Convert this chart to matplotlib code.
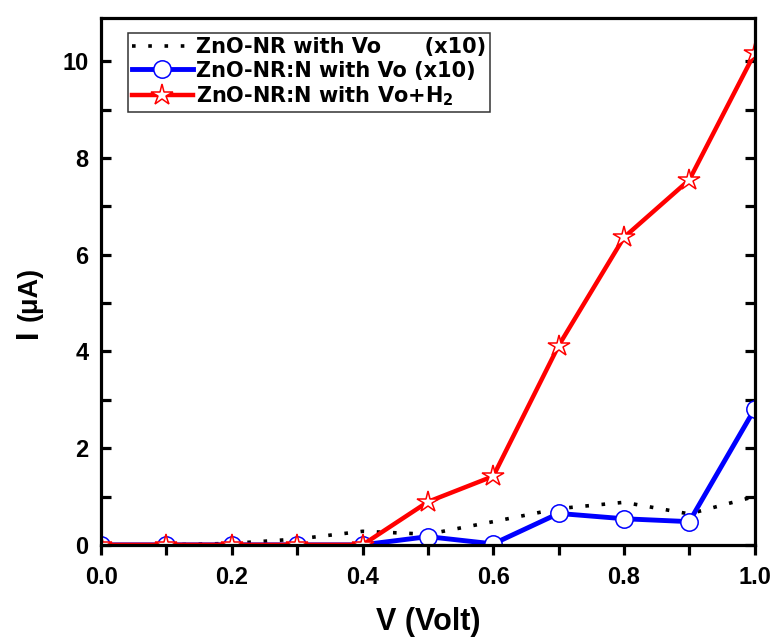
import numpy as np
import matplotlib.pyplot as plt

plt.rcParams['font.family'] = ['Liberation Sans', 'DejaVu Sans']
plt.rcParams['font.weight'] = 'bold'
plt.rcParams['mathtext.default'] = 'bf'

# voltage (V)
v = [0.0, 0.1, 0.2, 0.3, 0.4, 0.5, 0.6, 0.7, 0.8, 0.9, 1.0]
# currents (uA)
i_zno = [0.0, 0.0, 0.03, 0.12, 0.28, 0.22, 0.48, 0.75, 0.88, 0.64, 1.0]
i_znon = [0.0, 0.0, 0.0, 0.0, 0.0, 0.17, 0.02, 0.65, 0.54, 0.48, 2.81]
i_znon_h2 = [0.0, 0.0, 0.0, 0.0, 0.0, 0.89, 1.42, 4.12, 6.36, 7.55, 10.17]

W, H = 778, 641
fig = plt.figure(figsize=(W / 100, H / 100), dpi=100)
ax = fig.add_axes([0.13, 0.15, 0.84, 0.822])

ax.plot(v, i_zno, color='black', ls=(0, (1, 3.5)), lw=2.6,
        label='ZnO-NR with Vo      (x10)')
ax.plot(v, i_znon, color='blue', lw=3.5, marker='o', ms=12.5, mfc='white',
        mec='blue', mew=1.1, label='ZnO-NR:N with Vo (x10)')
ax.plot(v, i_znon_h2, color='red', lw=3.2, marker='*', ms=16, mfc='white',
        mec='red', mew=1.1, label='ZnO-NR:N with Vo+H$_2$')

ax.set_xlim(0.0, 1.0)
ax.set_ylim(0, 10.9)
ax.set_xticks(np.arange(0, 1.01, 0.2))
ax.set_xticks(np.arange(0.1, 1.0, 0.2), minor=True)
ax.set_yticks(np.arange(0, 11, 2))
ax.set_yticks(np.arange(1, 11, 2), minor=True)
ax.set_xticklabels(['0.0', '0.2', '0.4', '0.6', '0.8', '1.0'])

for s in ax.spines.values():
    s.set_linewidth(2.3)
ax.tick_params(axis='x', which='both', direction='out', length=7, width=2.3,
               labelsize=17, pad=8)
ax.tick_params(axis='y', which='both', direction='in', length=7, width=2.3,
               labelsize=17, right=True, pad=9)

ax.set_xlabel('V (Volt)', fontsize=22, fontweight='bold', labelpad=13)

# y label: big "I" plus smaller "(μA)"
fig.text(37 / W, 1 - 338 / H, 'I', fontsize=22, fontweight='bold',
         rotation=90, rotation_mode='anchor', ha='left', va='baseline')
fig.text(37 / W, 1 - 321 / H, '(μA)', fontsize=19.5, fontweight='bold',
         rotation=90, rotation_mode='anchor', ha='left', va='baseline')

leg = ax.legend(loc='upper left', bbox_to_anchor=(0.041, 0.9715),
                prop={'family': 'DejaVu Sans', 'weight': 'bold', 'size': 15},
                frameon=True, fancybox=False, edgecolor='black',
                handlelength=2.9, handletextpad=0.15, borderpad=0.2,
                labelspacing=0.17, borderaxespad=0, numpoints=1)
leg.get_frame().set_linewidth(1.1)

plt.savefig('out.png', dpi=100)
